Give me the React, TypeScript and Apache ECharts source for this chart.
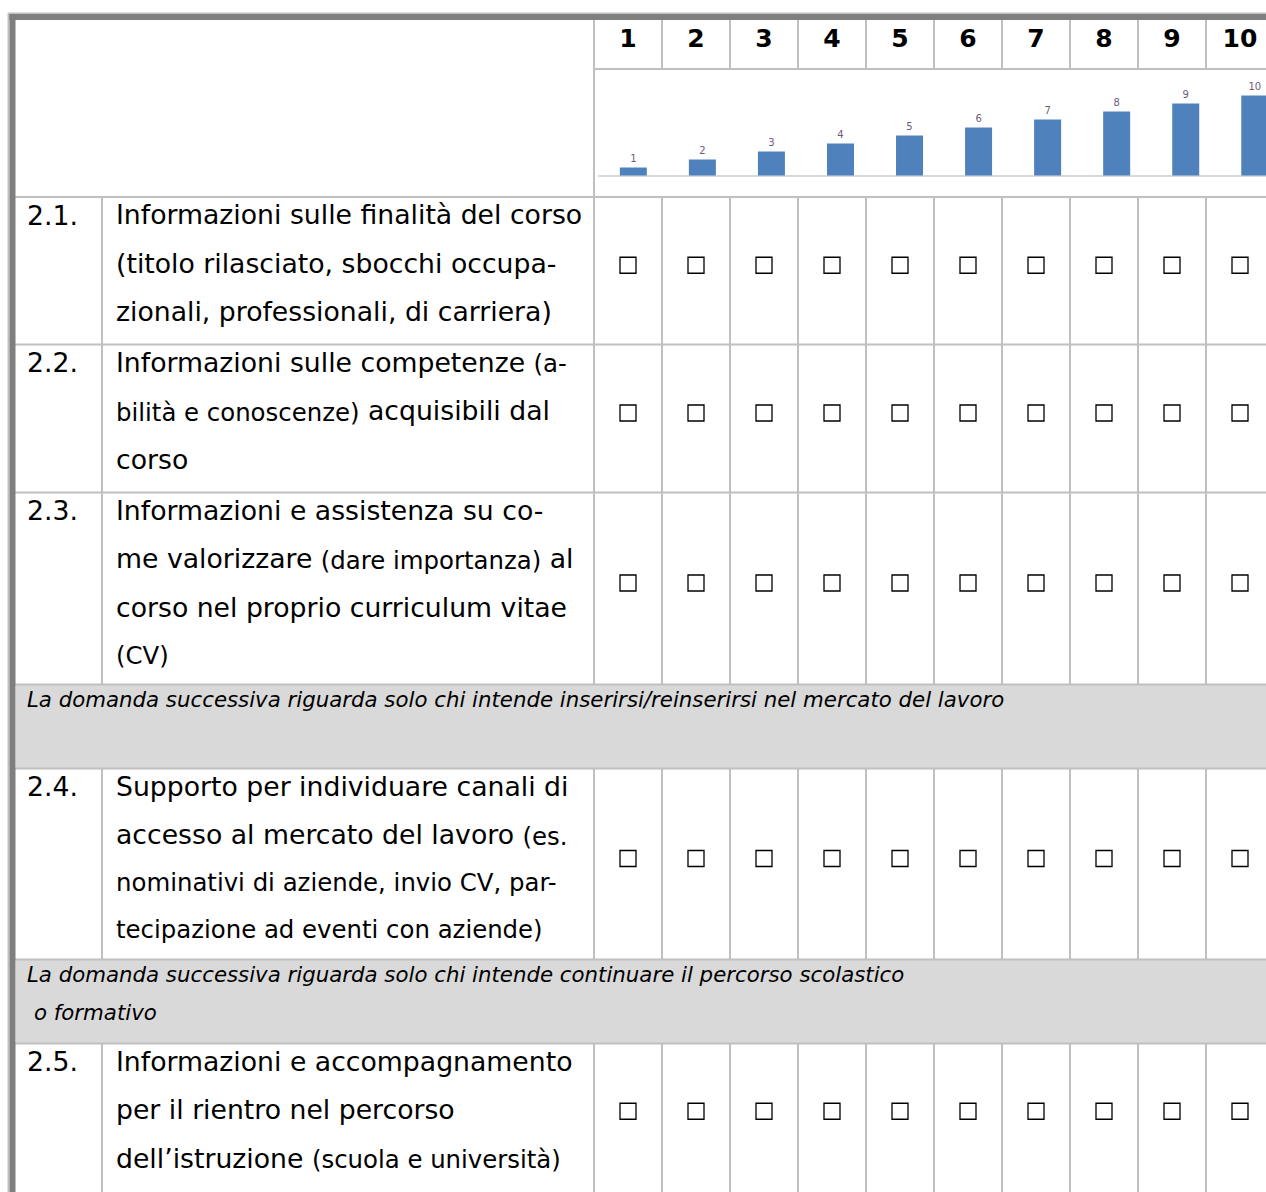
import React, { useEffect, useRef } from 'react';
import * as echarts from 'echarts';

// ---------- data ----------
const scaleLabels = ['1', '2', '3', '4', '5', '6', '7', '8', '9', '10'];
const barValues = [1, 2, 3, 4, 5, 6, 7, 8, 9, 10];
const questionNumbers = ['2.1.', '2.2.', '2.3.', '2.4.', '2.5.'];
type Seg = [string, string];
const questionLines: Seg[][][] = [
  [
    [['b', 'Informazioni sulle finalità del corso']],
    [['b', '(titolo rilasciato, sbocchi occupa-']],
    [['b', 'zionali, professionali, di carriera)']],
  ],
  [
    [['b', 'Informazioni sulle competenze '], ['s', '(a-']],
    [['s', 'bilità e conoscenze)'], ['b', ' acquisibili dal']],
    [['b', 'corso']],
  ],
  [
    [['b', 'Informazioni e assistenza su co-']],
    [['b', 'me valorizzare '], ['s', '(dare importanza)'], ['b', ' al']],
    [['b', 'corso nel proprio curriculum vitae']],
    [['s', '(CV)']],
  ],
  [
    [['b', 'Supporto per individuare canali di']],
    [['b', 'accesso al mercato del lavoro '], ['s', '(es.']],
    [['s', 'nominativi di aziende, invio CV, par-']],
    [['s', 'tecipazione ad eventi con aziende)']],
  ],
  [
    [['b', 'Informazioni e accompagnamento']],
    [['b', 'per il rientro nel percorso']],
    [['b', 'dell’istruzione '], ['s', '(scuola e università)']],
  ],
];
const noteLines: string[][] = [
  ['La domanda successiva riguarda solo chi intende inserirsi/reinserirsi nel mercato del lavoro'],
  ['La domanda successiva riguarda solo chi intende continuare il percorso scolastico', 'o formativo'],
];

// ---------- layout ----------
const W = 1266;
const H = 1192;
const FONT = '"DejaVu Sans", Verdana, sans-serif';
const BIG = 26.7;
const SMALL = 24.4;
const NOTE = 21.3;
const HEAD = 25;
const GRID_C = '#c0c0c0';
const DARK_C = '#7f7f7f';
const COL0 = 594;
const COLW = 68;
const NUMCOL_X = 102;
const HEADER_NUM_BOTTOM = 69;
const HEADER_BOTTOM = 197;
const TOP_BORDER = 20;
const qRows = [
  [197, 344.5],
  [344.5, 492.5],
  [492.5, 684.5],
  [768.5, 959.5],
  [1043.5, 1190],
];
const noteRows = [
  [684.5, 768.5],
  [959.5, 1043.5],
];

function buildGraphics() {
  const g: any[] = [];
  // note backgrounds
  noteRows.forEach(([t, b]) => {
    g.push({ type: 'rect', shape: { x: 16, y: t, width: W - 16, height: b - t }, style: { fill: '#d9d9d9' }, silent: true });
  });
  const hline = (y: number, x1: number, x2: number) =>
    g.push({ type: 'line', shape: { x1, y1: y, x2, y2: y }, style: { stroke: GRID_C, lineWidth: 2 }, silent: true });
  const vline = (x: number, y1: number, y2: number) =>
    g.push({ type: 'line', shape: { x1: x, y1, x2: x, y2 }, style: { stroke: GRID_C, lineWidth: 2 }, silent: true });

  hline(HEADER_NUM_BOTTOM, COL0, W);
  hline(HEADER_BOTTOM, 15, W);
  [344.5, 492.5, 684.5, 768.5, 959.5, 1043.5].forEach((y) => hline(y, 15, W));

  const bodySegs = [
    [HEADER_BOTTOM, 684.5],
    [768.5, 959.5],
    [1043.5, H],
  ];
  bodySegs.forEach(([a, b]) => vline(NUMCOL_X, a, b));
  vline(COL0, TOP_BORDER, 684.5);
  vline(COL0, 768.5, 959.5);
  vline(COL0, 1043.5, H);
  for (let k = 1; k < scaleLabels.length + 1; k++) {
    const x = COL0 + k * COLW;
    vline(x, TOP_BORDER, HEADER_NUM_BOTTOM);
    bodySegs.forEach(([a, b]) => vline(x, a, b));
  }

  // outer border
  g.push({ type: 'rect', shape: { x: 8, y: 12.5, width: W - 8, height: 1.5 }, style: { fill: GRID_C }, silent: true });
  g.push({ type: 'rect', shape: { x: 9, y: 14, width: W - 9, height: 6 }, style: { fill: DARK_C }, silent: true });
  g.push({ type: 'rect', shape: { x: 7.5, y: 13, width: 2, height: H - 13 }, style: { fill: GRID_C }, silent: true });
  g.push({ type: 'rect', shape: { x: 9.5, y: 14, width: 6, height: H - 14 }, style: { fill: DARK_C }, silent: true });

  // header numbers
  scaleLabels.forEach((lab, k) => {
    g.push({
      type: 'text',
      x: COL0 + k * COLW + COLW / 2,
      y: 38,
      style: { text: lab, fontFamily: FONT, fontSize: HEAD, fontWeight: 'bold', fill: '#000', align: 'center', verticalAlign: 'middle' },
      silent: true,
    });
  });

  // questions
  qRows.forEach(([top, bottom], qi) => {
    let cy = top + 18;
    g.push({
      type: 'text',
      x: 27,
      y: cy,
      style: { text: questionNumbers[qi], fontFamily: FONT, fontSize: BIG, fill: '#000', align: 'left', verticalAlign: 'middle' },
      silent: true,
    });
    questionLines[qi].forEach((line, li) => {
      if (li > 0) {
        const hasBig = line.some((s) => s[0] === 'b');
        cy += hasBig ? 48.5 : 46.5;
      }
      const text = line.map(([k, t]) => `{${k}|${t}}`).join('');
      g.push({
        type: 'text',
        x: 116,
        y: cy - 1.8,
        style: {
          text,
          align: 'left',
          verticalAlign: 'middle',
          fill: '#000',
          rich: {
            b: { fontFamily: FONT, fontSize: BIG, fill: '#000', verticalAlign: 'bottom', lineHeight: 30 },
            s: { fontFamily: FONT, fontSize: SMALL, fill: '#000', verticalAlign: 'bottom', lineHeight: 30 },
          },
        },
        silent: true,
      });
    });
    // checkboxes
    const by = (top + bottom) / 2 - 5.5;
    scaleLabels.forEach((_, k) => {
      const bx = COL0 + k * COLW + COLW / 2;
      g.push({
        type: 'rect',
        shape: { x: bx - 8, y: by - 8, width: 16, height: 16 },
        style: { fill: '#fff', stroke: '#000', lineWidth: 1.3 },
        silent: true,
      });
    });
  });

  // notes
  noteRows.forEach(([top], ni) => {
    noteLines[ni].forEach((t, li) => {
      g.push({
        type: 'text',
        x: li === 0 ? 27 : 34,
        y: top + 14.5 + li * 38,
        style: { text: t, fontFamily: FONT, fontSize: NOTE, fontStyle: 'italic', fill: '#000', align: 'left', verticalAlign: 'middle' },
        silent: true,
      });
    });
  });
  return g;
}

export default function App() {
  const ref = useRef<HTMLDivElement>(null);
  useEffect(() => {
    if (!ref.current) return;
    const chart = echarts.init(ref.current, null, { renderer: 'svg' });
    chart.setOption({
      animation: false,
      backgroundColor: '#fff',
      grid: { left: 598.8, top: 87.5, width: 690.5, height: 88, outerBoundsMode: 'none', containLabel: false },
      xAxis: {
        type: 'category',
        data: scaleLabels,
        axisLine: { show: true, lineStyle: { color: '#d9d9d9', width: 2 } },
        axisTick: { show: false },
        axisLabel: { show: false },
        splitLine: { show: false },
      },
      yAxis: { type: 'value', min: 0, max: 11, show: false, splitLine: { show: false } },
      series: [
        {
          type: 'bar',
          data: barValues,
          barWidth: 27,
          itemStyle: { color: '#4f81bd' },
          label: { show: true, position: 'top', distance: 4, fontSize: 10, fontFamily: FONT, color: '#6e5b7b' },
          silent: true,
        },
      ],
      graphic: { elements: buildGraphics() },
    });
    return () => chart.dispose();
  }, []);
  return <div ref={ref} style={{ position: 'absolute', left: 0, top: 0, width: W, height: H }} />;
}
